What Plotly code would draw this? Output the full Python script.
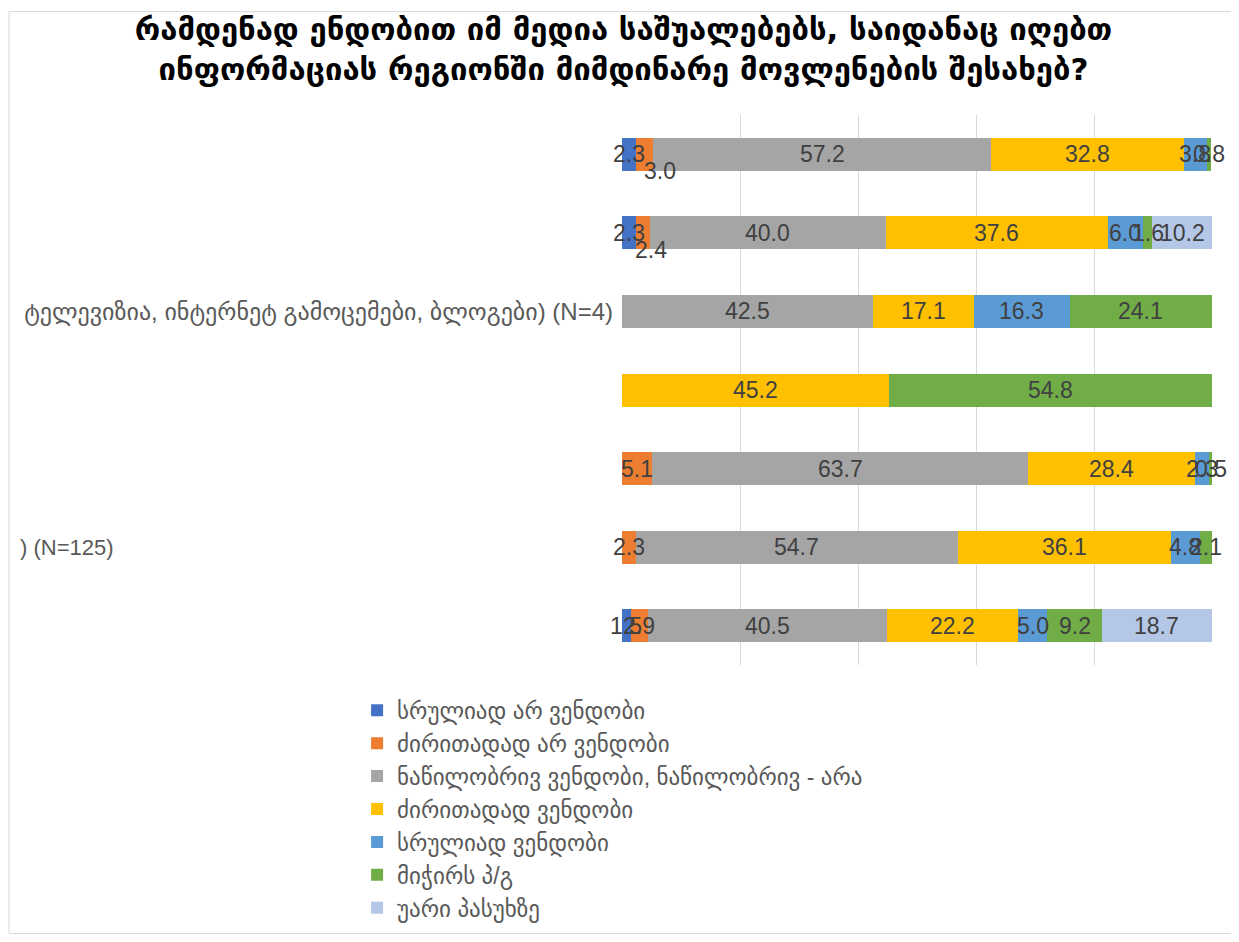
import plotly.graph_objects as go

# ---- data ----
row_keys = ["r1", "r2", "r3", "r4", "r5", "r6", "r7"]
row_labels = ["", "", "ტელევიზია, ინტერნეტ გამოცემები, ბლოგები) (N=4)", "", "", "", ""]
row6_fragment = ") (N=125)"

series_names = [
    "სრულიად არ ვენდობი",
    "ძირითადად არ ვენდობი",
    "ნაწილობრივ ვენდობი, ნაწილობრივ - არა",
    "ძირითადად ვენდობი",
    "სრულიად ვენდობი",
    "მიჭირს პ/გ",
    "უარი პასუხზე",
]
colors = ["#4472C4", "#ED7D31", "#A5A5A5", "#FFC000", "#5B9BD5", "#70AD47", "#B4C7E7"]

s_not_at_all = [2.3, 2.3, None, None, None, None, 1.5]
s_mostly_not = [3.0, 2.4, None, None, 5.1, 2.3, 2.9]
s_partly = [57.2, 40.0, 42.5, None, 63.7, 54.7, 40.5]
s_mostly = [32.8, 37.6, 17.1, 45.2, 28.4, 36.1, 22.2]
s_fully = [3.8, 6.0, 16.3, None, 2.3, 4.8, 5.0]
s_dk = [0.8, 1.6, 24.1, 54.8, 0.5, 2.1, 9.2]
s_refuse = [None, 10.2, None, None, None, None, 18.7]
series_values = [s_not_at_all, s_mostly_not, s_partly, s_mostly, s_fully, s_dk, s_refuse]

# labels that the original nudged off the bar to avoid overlap: (series, row) -> (dx, dy) px
shifted_labels = {(1, 0): (16, -17), (1, 1): (8, -17)}

title_text = ("რამდენად ენდობით იმ მედია საშუალებებს, საიდანაც იღებთ<br>"
              "ინფორმაციას რეგიონში მიმდინარე მოვლენების შესახებ?")

FONT = "Liberation Sans, DejaVu Sans, sans-serif"

fig = go.Figure()
for i, (name, vals, col) in enumerate(zip(series_names, series_values, colors)):
    fig.add_trace(go.Bar(
        y=row_keys, x=vals, name=name, orientation="h",
        marker=dict(color=col, line=dict(width=0)),
        legendgroup=f"g{i}",
        hoverinfo="x+name",
    ))

# data labels, centred on each stacked segment (positions from the data via the axes)
cum = [0.0] * len(row_keys)
for si, vals in enumerate(series_values):
    for ri, v in enumerate(vals):
        if v is None:
            continue
        mid = cum[ri] + v / 2
        cum[ri] += v
        dx, dy = shifted_labels.get((si, ri), (0, 0))
        fig.add_annotation(
            x=mid, y=row_keys[ri], xref="x", yref="y", text=f"{v:.1f}",
            showarrow=False, xanchor="center", yanchor="middle",
            xshift=dx, yshift=dy,
            font=dict(size=23, color="#404040", family=FONT),
        )

fig.update_layout(
    width=1231, height=934,
    barmode="stack", bargap=0.58,
    paper_bgcolor="white", plot_bgcolor="white",
    margin=dict(l=614, r=27, t=107, b=274),
    title=dict(text=title_text, x=0.5, xref="container", xanchor="center",
               y=0.966, yanchor="middle", yref="container",
               font=dict(size=31, color="#000000", family="DejaVu Sans, sans-serif", weight="bold")),
    xaxis=dict(range=[0, 100], dtick=20, showticklabels=False, showgrid=True,
               gridcolor="#D9D9D9", gridwidth=1, zeroline=False, showline=False, fixedrange=True),
    yaxis=dict(autorange="reversed", tickmode="array", tickvals=row_keys, ticktext=row_labels,
               tickfont=dict(size=24, color="#595959", family=FONT), ticks="", showgrid=False,
               zeroline=False, showline=False, automargin=False, ticklabelstandoff=8),
    legend=dict(orientation="v", x=-0.449, xanchor="left", y=-0.0434, yanchor="top",
                font=dict(size=23, color="#595959", family=FONT),
                traceorder="normal", tracegroupgap=4, itemwidth=30),
    showlegend=True,
)

fig.add_annotation(text=row6_fragment, xref="paper", yref="y", x=(108 - 614) / 590, y="r6",
                   xanchor="right", yanchor="middle", showarrow=False,
                   font=dict(size=22, color="#595959", family=FONT))

# outer chart border
fig.add_shape(type="rect", xref="paper", yref="paper",
              x0=-1.039, x1=(1224 - 614) / 590,
              y0=(660 - 930) / 553, y1=(660 - 3) / 553,
              line=dict(color="#D9D9D9", width=1), fillcolor="rgba(0,0,0,0)", layer="below")

fig.write_html("out.html")
